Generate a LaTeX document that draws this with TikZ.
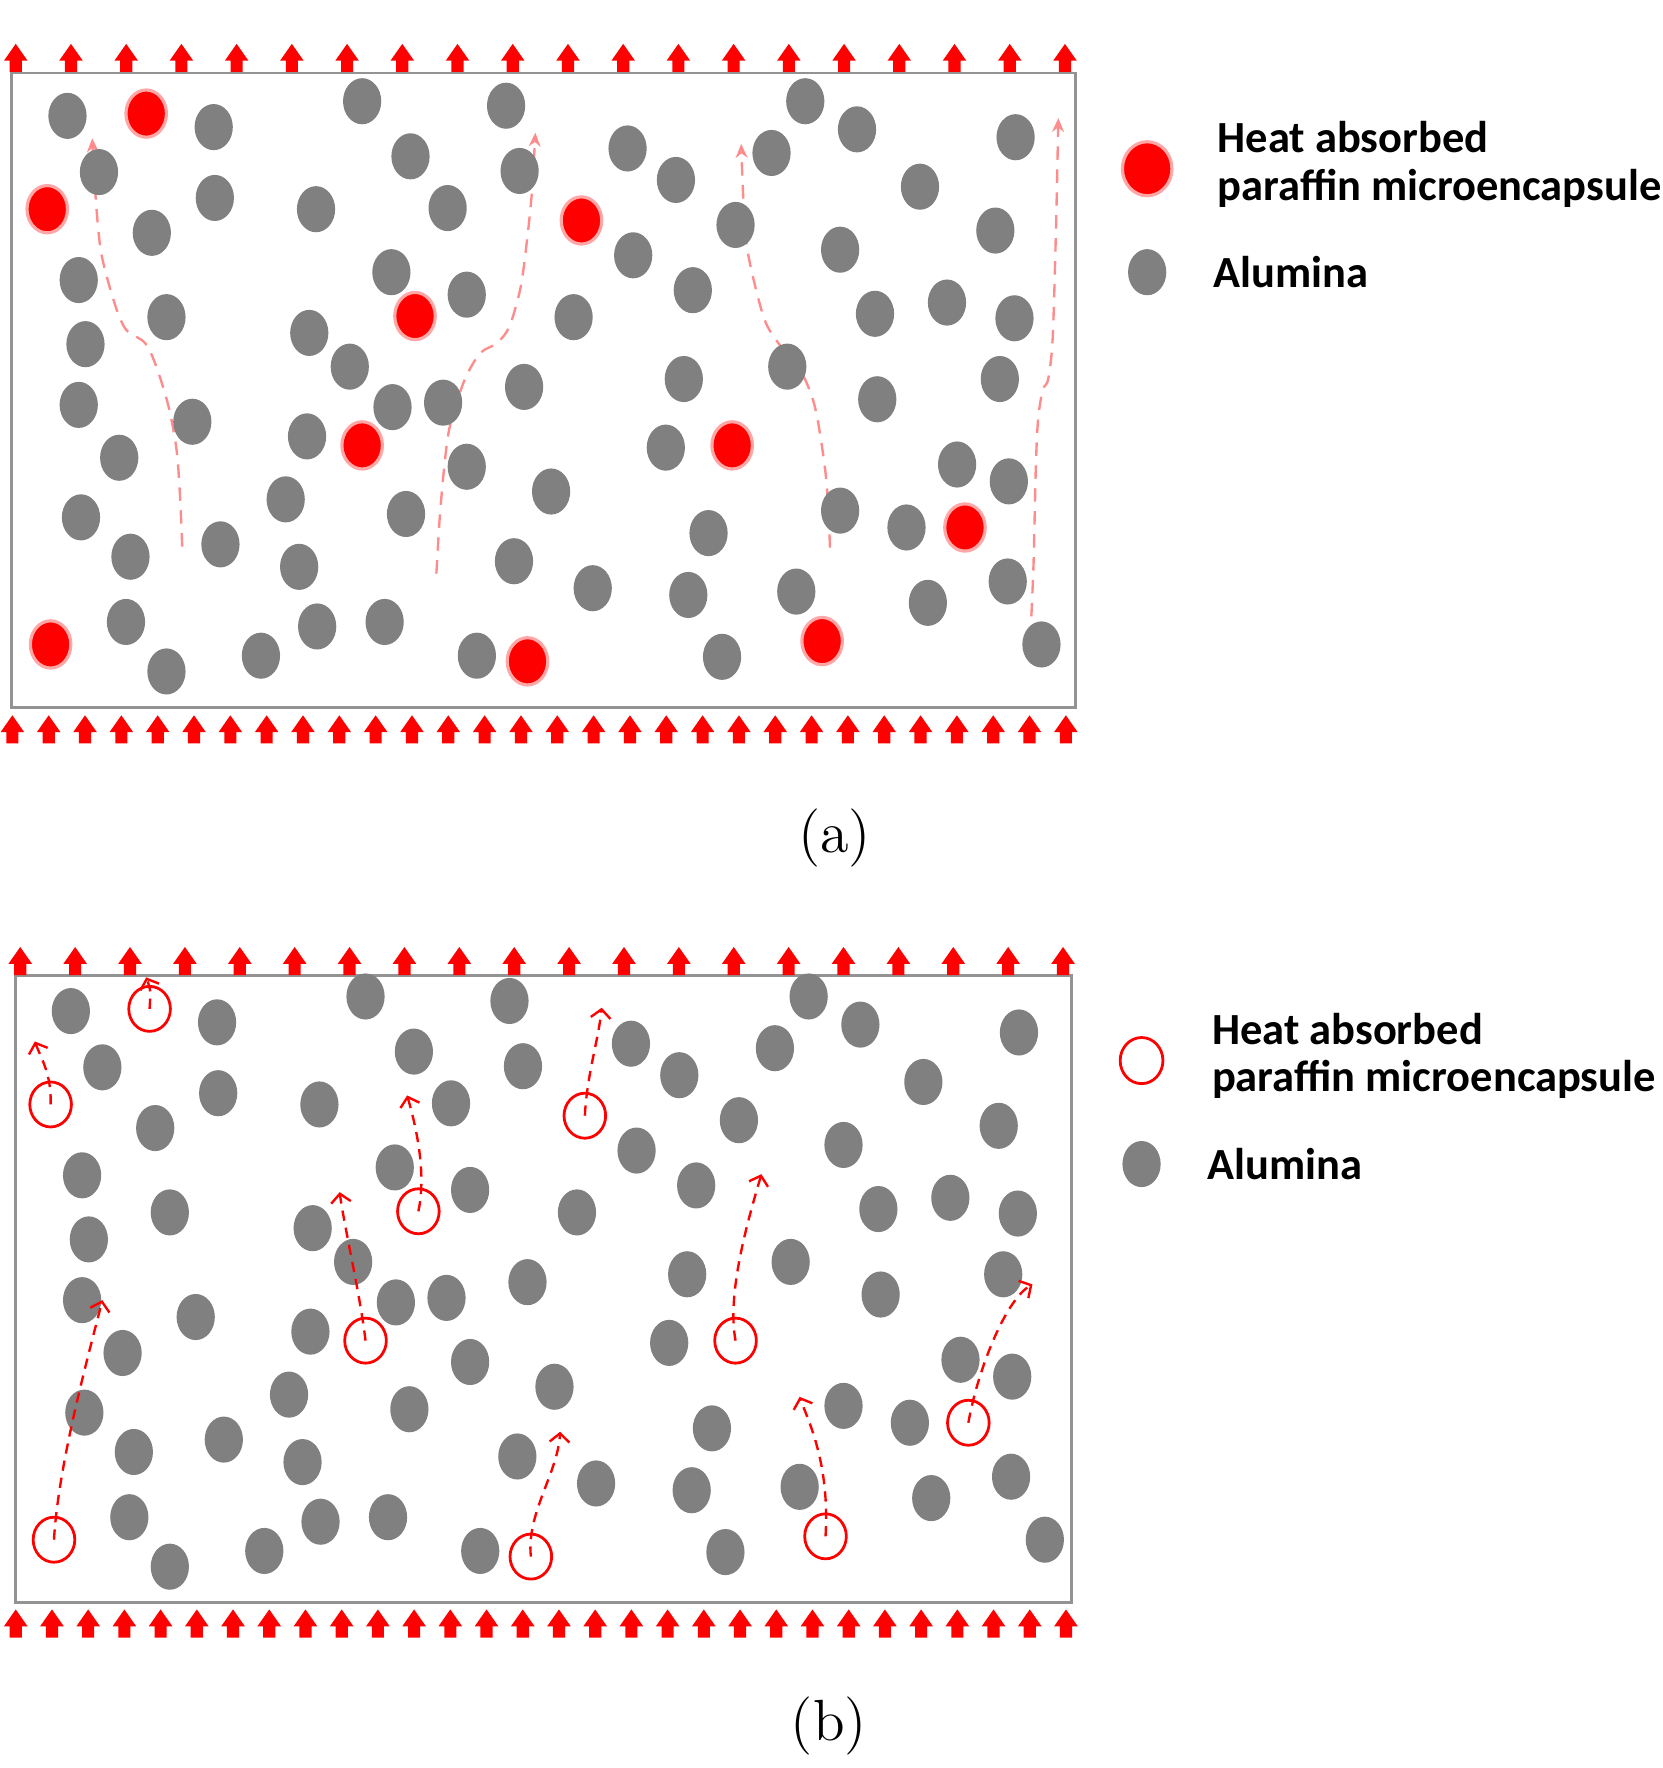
\documentclass[tikz,border=0pt]{standalone}
\usepackage{fontspec}
\newfontfamily\legendfont{Carlito}
\usetikzlibrary{shapes.geometric,arrows.meta}

\tikzset{
  alumina/.style={fill=gray},
  hotcap/.style={ellipse, fill=red, draw=red!35, line width=0.8pt,
    minimum width=0.36cm, minimum height=0.42cm, inner sep=0pt},
  coldcap/.style={ellipse, draw=red, line width=0.7pt,
    minimum width=0.37cm, minimum height=0.40cm, inner sep=0pt},
  flowa/.style={draw=red!45, line width=0.6pt, dash pattern=on 3.4pt off 2.4pt,
    -{Stealth[length=3.5pt,width=3pt]}},
  flowb/.style={draw=red, line width=0.6pt, dash pattern=on 2.6pt off 1.8pt,
    -{Straight Barb[length=2.2pt,width=5pt]}},
  frame/.style={draw=gray!85, line width=0.7pt},
  legend/.style={font=\legendfont\bfseries\fontsize{11.25}{12}\selectfont,
    align=left, anchor=west, inner sep=0pt},
  caption/.style={font=\fontsize{14.7}{17}\selectfont}
}

% block arrow: #1 = x, #2 = y of its base
\newcommand{\heatup}[2]{\fill[red] (#1-5.4,#2) -- (#1-5.4,#2-10) -- (#1-10.5,#2-10)
  -- (#1,#2-25) -- (#1+10.5,#2-10) -- (#1+5.4,#2-10) -- (#1+5.4,#2) -- cycle;}

% particle layout, same in both panels
\def\aluminalist{60/103, 88/153, 190/113, 322/90, 450/94, 365/139, 462/152,
  135/207, 191/176, 281/186, 398/185, 70/249, 148/282, 348/242, 415/262,
  76/306, 275/296, 311/326, 510/282, 70/360, 171/375, 349/362, 394/358,
  466/344, 106/407, 273/388, 415/415, 72/460, 254/444, 361/457, 490/437,
  116/495, 196/484, 266/504, 457/499, 112/553, 148/597, 232/583, 282/557,
  342/553, 424/583, 527/523, 558/132, 601/160, 686/136, 716/90, 762/115,
  903/122, 818/166, 654/200, 563/227, 747/222, 885/205, 616/258, 778/279,
  842/269, 902/283, 608/337, 700/326, 780/355, 889/337, 592/398, 851/413,
  897/428, 747/454, 806/469, 630/474, 612/529, 708/526, 825/536, 896/517,
  642/584, 926/573}
\def\capsulelist{1/130/101, 2/42/186, 3/517/196, 4/369/281, 5/322/396,
  6/651/396, 7/858/469, 8/45/573, 9/469/588, 10/731/570}

\begin{document}
\begin{tikzpicture}[x=0.01cm, y=-0.01cm]
\useasboundingbox (0,0) rectangle (1478,1572);

%%% (a)
\draw[frame] (10,65) rectangle (956,629);
\foreach \i in {0,...,19} {
  \pgfmathsetmacro\xx{14+49.1*\i}
  \heatup{\xx}{64}
}
\foreach \i in {0,...,29} {
  \pgfmathsetmacro\xx{11+32.3*\i}
  \heatup{\xx}{661}
}

\draw[flowa] plot[smooth] coordinates {(162,486) (160,440) (157,400) (150,362)
  (139,326) (129,305) (112,293) (102,270) (90,225) (85,175) (82,123)};
\draw[flowa] plot[smooth] coordinates {(388,510) (391,460) (395,415) (400,379)
  (413,338) (427,314) (442,305) (453,290) (463,255) (469,210) (473,170) (476,118)};
\draw[flowa] plot[smooth] coordinates {(738,487) (735,430) (729,385) (723,356)
  (712,330) (692,305) (679,282) (665,225) (661,178) (659,128)};
\draw[flowa] plot[smooth] coordinates {(917,548) (919,500) (921,415) (923,373)
  (927,347) (932,337) (936,300) (939,200) (941,105)};

\foreach \x/\y in \aluminalist
  \fill[alumina] (\x,\y) ellipse (17 and 20.5);
\foreach \i/\x/\y in \capsulelist
  \node[hotcap] (a\i) at (\x,\y) {};

\node[hotcap, minimum width=0.44cm, minimum height=0.48cm] (keyhot) at (1020,150) {};
\node[legend] (keyhottext) at (1082,146) {Heat absorbed\\paraffin microencapsule};
\fill[alumina] (1020,242) ellipse (17 and 20.5);
\node[legend] (keyalua) at (1078,242) {Alumina};

\node[caption] (capa) at (742,745) {(a)};

%%% (b)
\draw[frame] (14,867) rectangle (953,1425);
\foreach \i in {0,...,19} {
  \pgfmathsetmacro\xx{18+48.8*\i}
  \heatup{\xx}{867}
}
\foreach \i in {0,...,29} {
  \pgfmathsetmacro\xx{14+32.2*\i}
  \heatup{\xx}{1456}
}

\begin{scope}[shift={(3,796)}]
\foreach \x/\y in \aluminalist
  \fill[alumina] (\x,\y) ellipse (17 and 20.5);
\foreach \i/\x/\y in \capsulelist
  \node[coldcap] (b\i) at (\x,\y) {};
\end{scope}

\coordinate (t1) at (130,869);
\coordinate (t2) at (31,926);
\coordinate (t3) at (535,896);
\coordinate (t4) at (362,974);
\coordinate (t5) at (302,1060);
\coordinate (t6) at (677,1044);
\coordinate (t7) at (918,1142);
\coordinate (t8) at (91,1156);
\coordinate (t9) at (498,1273);
\coordinate (t10) at (711,1242);

\draw[flowb] (b1.center) .. controls (134,880) .. (t1);
\draw[flowb] (b2.center) .. controls (46,955) and (36,940) .. (t2);
\draw[flowb] (b3.center) .. controls (522,955) and (532,925) .. (t3);
\draw[flowb] (b4.center) .. controls (380,1040) and (368,995) .. (t4);
\draw[flowb] (b5.center) .. controls (320,1150) and (306,1090) .. (t5);
\draw[flowb] (b6.center) .. controls (646,1150) and (665,1085) .. (t6);
\draw[flowb] (b7.center) .. controls (870,1215) and (895,1155) .. (t7);
\draw[flowb] (b8.center) .. controls (52,1300) and (80,1200) .. (t8);
\draw[flowb] (b9.center) .. controls (468,1345) and (496,1310) .. (t9);
\draw[flowb] (b10.center) .. controls (738,1300) and (718,1262) .. (t10);

\node[coldcap, minimum width=0.38cm, minimum height=0.41cm] (keycold) at (1015,943) {};
\node[legend] (keycoldtext) at (1077,939) {Heat absorbed\\paraffin microencapsule};
\fill[alumina] (1015,1035) ellipse (17 and 20.5);
\node[legend] (keyalub) at (1073,1035) {Alumina};

\node[caption] (capb) at (737,1535) {(b)};
\end{tikzpicture}
\end{document}
